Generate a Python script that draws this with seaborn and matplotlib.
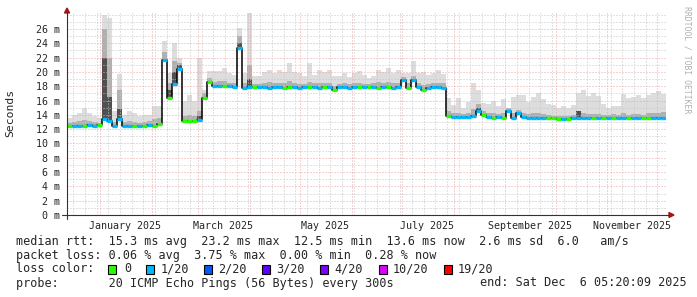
import matplotlib
matplotlib.use("Agg")
import numpy as np
import pandas as pd
import matplotlib.pyplot as plt
import matplotlib.dates as mdates
from matplotlib.patches import Rectangle, Polygon
from matplotlib.lines import Line2D
import seaborn as sns

# ---------------- data ----------------
END = pd.Timestamp("2025-12-06 05:20:09")
START = END - pd.Timedelta(days=359)
N_BINS = 120  # ~3-day consolidation steps

median_ms = [
    12.5, 12.5, 12.5, 12.5, 12.6, 12.5, 12.6, 13.4, 13.1, 12.5,
    13.4, 12.5, 12.5, 12.5, 12.5, 12.5, 12.6, 12.5, 12.7, 21.6,
    16.4, 18.3, 20.4, 13.2, 13.2, 13.2, 13.3, 16.3, 18.6, 18.0,
    18.0, 18.1, 18.0, 17.9, 23.3, 17.8, 17.9, 17.9, 17.9, 17.9,
    17.8, 17.9, 17.9, 17.8, 17.9, 17.9, 17.8, 17.9, 17.9, 17.9,
    17.8, 17.9, 17.9, 17.5, 17.9, 17.9, 17.8, 17.9, 17.9, 17.9,
    17.9, 17.9, 17.8, 17.9, 17.9, 17.8, 17.9, 18.9, 17.8, 18.9,
    17.9, 17.5, 17.8, 17.9, 17.9, 17.8, 13.8, 13.7, 13.7, 13.7,
    13.7, 13.8, 14.5, 14.0, 13.7, 13.6, 13.7, 13.6, 14.5, 13.6,
    14.3, 13.7, 13.6, 13.6, 13.6, 13.5, 13.5, 13.5, 13.4, 13.4,
    13.4, 13.5, 13.6, 13.6, 13.6, 13.5, 13.6, 13.6, 13.5, 13.6,
    13.6, 13.6, 13.5, 13.6, 13.6, 13.6, 13.6, 13.6, 13.6, 13.6,
]

smoke_top_ms = [
    13.6, 14.0, 14.3, 15.0, 14.2, 13.8, 13.6, 28.0, 27.5, 14.5,
    19.7, 14.0, 14.6, 14.2, 13.8, 14.0, 14.0, 15.2, 15.3, 24.3,
    19.8, 24.0, 22.0, 16.0, 16.8, 16.0, 22.0, 17.5, 20.1, 20.1,
    20.1, 20.5, 19.8, 19.6, 26.1, 19.8, 28.2, 19.4, 19.4, 20.0,
    20.3, 19.8, 20.2, 20.0, 21.2, 20.0, 19.8, 19.5, 21.2, 19.6,
    20.3, 20.0, 20.3, 19.5, 19.5, 19.8, 19.3, 19.8, 20.1, 19.6,
    19.1, 19.5, 20.3, 20.0, 20.5, 19.8, 20.2, 19.8, 19.8, 21.5,
    19.8, 20.0, 19.6, 19.9, 20.2, 19.7, 16.4, 15.4, 16.3, 15.0,
    15.8, 18.4, 17.5, 15.6, 15.5, 16.0, 15.3, 16.2, 15.0, 16.5,
    16.8, 16.8, 15.8, 16.5, 17.0, 16.2, 15.5, 15.4, 15.0, 15.2,
    15.0, 15.4, 17.0, 17.5, 16.6, 17.0, 16.6, 15.5, 15.0, 15.3,
    15.2, 16.9, 16.3, 16.5, 16.8, 16.4, 16.8, 17.0, 17.4, 16.9,
]

smoke_mid_ms = [
    12.9, 13.0, 13.1, 13.3, 13.1, 13.0, 12.9, 26.0, 22.0, 13.0,
    17.5, 13.0, 13.1, 13.0, 12.9, 13.0, 13.1, 13.4, 13.5, 22.8,
    18.5, 21.5, 21.2, 13.8, 14.0, 13.9, 14.6, 17.0, 19.2, 18.6,
    18.7, 18.8, 18.5, 18.4, 25.0, 18.4, 21.0, 18.3, 18.3, 18.5,
    18.6, 18.4, 18.5, 18.4, 18.7, 18.5, 18.3, 18.3, 18.6, 18.4,
    18.5, 18.4, 18.5, 18.1, 18.3, 18.4, 18.3, 18.4, 18.5, 18.3,
    18.3, 18.4, 18.6, 18.5, 18.6, 18.4, 18.5, 19.3, 18.4, 19.4,
    18.4, 18.2, 18.3, 18.4, 18.5, 18.4, 14.6, 14.2, 14.3, 14.1,
    14.3, 14.8, 15.5, 14.5, 14.2, 14.2, 14.1, 14.3, 14.9, 14.2,
    14.7, 14.3, 14.1, 14.2, 14.3, 14.1, 14.0, 13.9, 13.9, 13.9,
    13.9, 14.0, 14.6, 14.2, 14.1, 14.1, 14.1, 14.0, 14.0, 14.1,
    14.0, 14.2, 14.0, 14.1, 14.1, 14.0, 14.2, 14.2, 14.3, 14.4,
]

dark_bins = [7, 8, 10, 19, 20, 21, 22, 26, 34, 36, 82, 102]
dark_top_ms = [22.0, 16.5, 14.8, 21.8, 17.5, 20.0, 21.0, 13.8, 24.0, 19.0, 15.0, 14.5]

# index into loss_labels / loss_colors
loss_bucket = [
    0, 1, 1, 0, 1, 1, 0, 1, 1, 1,
    1, 1, 1, 0, 1, 0, 1, 0, 0, 1,
    0, 1, 1, 0, 0, 0, 1, 0, 0, 1,
    1, 0, 1, 1, 1, 1, 1, 0, 1, 1,
    1, 1, 1, 0, 0, 1, 1, 1, 0, 1,
    1, 0, 1, 0, 1, 1, 1, 1, 0, 1,
    0, 1, 0, 1, 0, 1, 1, 1, 0, 1,
    1, 0, 1, 1, 1, 1, 0, 1, 1, 1,
    1, 1, 1, 0, 1, 0, 1, 0, 1, 1,
    1, 1, 1, 1, 1, 1, 0, 0, 0, 1,
    0, 1, 1, 1, 1, 0, 1, 0, 1, 0,
    1, 1, 0, 1, 1, 0, 0, 1, 1, 1,
]

loss_labels = ["0", "1/20", "2/20", "3/20", "4/20", "10/20", "19/20"]
loss_colors = ["#26ff00", "#00b8ff", "#0059ff", "#5e00ff", "#7e00ff", "#dd00ff", "#ff0000"]

y_ticks = [0, 2, 4, 6, 8, 10, 12, 14, 16, 18, 20, 22, 24, 26]
x_label_dates = ["2025-01-16", "2025-03-16", "2025-05-16", "2025-07-16", "2025-09-16", "2025-11-16"]
x_labels = ["January 2025", "March 2025", "May 2025", "July 2025", "September 2025", "November 2025"]

legend_lines = [
    "median rtt:  15.3 ms avg  23.2 ms max  12.5 ms min  13.6 ms now  2.6 ms sd  6.0   am/s",
    "packet loss: 0.06 % avg  3.75 % max  0.00 % min  0.28 % now",
]
probe_text = "probe:       20 ICMP Echo Pings (56 Bytes) every 300s"
end_text = "end: Sat Dec  6 05:20:09 2025"

# ---------------- style ----------------
sns.set_style("white")
MONO = "DejaVu Sans Mono"
plt.rcParams["font.family"] = [MONO]

W, H = 697, 297
fig = plt.figure(figsize=(W / 100, H / 100), dpi=100)
fig.patch.set_facecolor("white")


def fx(px):
    return px / W


def fy(py):
    return 1 - py / H


AX_L, AX_R, AX_T, AX_B = 67, 666, 12, 215
PX_PER_MS = 186 / 26
ax = fig.add_axes([fx(AX_L), fy(AX_B), (AX_R - AX_L) / W, (AX_B - AX_T) / H])
ax.set_facecolor("white")
ax.set_ylim(0, (AX_B - AX_T) / PX_PER_MS)
ax.set_xlim(mdates.date2num(START), mdates.date2num(END))
for s in ax.spines.values():
    s.set_visible(False)

edges = pd.date_range(START, END, periods=N_BINS + 1)
xe = mdates.date2num(edges)
med = np.array(median_ms)
med_ext = np.r_[med, med[-1]]
top_ext = np.r_[smoke_top_ms, smoke_top_ms[-1]]
mid_ext = np.r_[smoke_mid_ms, smoke_mid_ms[-1]]

# smoke
ax.fill_between(xe, med_ext, top_ext, step="post", color="#dddddd", lw=0, zorder=1)
ax.fill_between(xe, med_ext, mid_ext, step="post", color="#b0b0b0", lw=0, zorder=1.2)
for b, v in zip(dark_bins, dark_top_ms):
    ax.fill_between([xe[b], xe[b + 1]], [med[b], med[b]], [v, v], color="#505050", lw=0, zorder=1.4)

# grid (drawn above smoke)
GRID_MIN = "#c6c6c6"
GRID_MAJ = "#eca6a6"
month_starts = pd.date_range("2025-01-01", END, freq="MS")
mondays = pd.date_range(START.normalize(), END, freq="W-MON")
ms_set = set(month_starts)
for d in mondays:
    if d not in ms_set and d >= START:
        ax.axvline(mdates.date2num(d), color=GRID_MIN, lw=0.72, ls=(0, (1, 2)), zorder=2)
for d in month_starts:
    ax.axvline(mdates.date2num(d), color=GRID_MAJ, lw=0.72, ls=(0, (1, 2)), zorder=2.1)
for v in range(1, 29):
    if v % 2 == 1 or v > 26:
        ax.axhline(v, color=GRID_MIN, lw=0.72, ls=(0, (1, 2)), zorder=2)
for v in y_ticks[1:]:
    ax.axhline(v, color=GRID_MAJ, lw=0.72, ls=(0, (1, 2)), zorder=2.1)

# median line
df = pd.DataFrame({"t": edges, "ms": med_ext})
sns.lineplot(data=df, x="t", y="ms", drawstyle="steps-post", color="black", lw=1.1,
             ax=ax, zorder=3, legend=False)
ax.hlines(med, xe[:-1], xe[1:], colors=[loss_colors[b] for b in loss_bucket], lw=2.4, zorder=4)

ax.set_xlabel("")
ax.set_ylabel("")
ax.set_yticks(y_ticks)
ax.set_yticklabels([f"{v} m" for v in y_ticks], fontsize=7.2, family=MONO)
ax.set_xticks(mdates.date2num(pd.to_datetime(x_label_dates)))
ax.set_xticklabels(x_labels, fontsize=7.2, family=MONO)
ax.tick_params(axis="y", length=0, pad=5.2)
ax.tick_params(axis="x", length=0, pad=4)
ax.set_xlim(mdates.date2num(START), mdates.date2num(END))

# axes with arrows
axis_col = "#333333"
arrow_col = "#a01818"
fig.add_artist(Line2D([fx(AX_L), fx(AX_L)], [fy(219), fy(12)], color=axis_col, lw=0.8))
fig.add_artist(Line2D([fx(62), fx(669)], [fy(AX_B), fy(AX_B)], color=axis_col, lw=0.8))
fig.add_artist(Polygon([[fx(64.5), fy(13)], [fx(69.5), fy(13)], [fx(67), fy(8)]],
                       closed=True, color=arrow_col, transform=fig.transFigure))
fig.add_artist(Polygon([[fx(669), fy(212.5)], [fx(669), fy(217.5)], [fx(674), fy(215)]],
                       closed=True, color=arrow_col, transform=fig.transFigure))

# y label and watermark
fig.text(fx(10), fy(113), "Seconds", rotation=90, fontsize=8.2, family=MONO,
         ha="center", va="center")
fig.text(fx(687), fy(60), "RRDTOOL / TOBI OETIKER", rotation=270, fontsize=5.9,
         family=MONO, color="#b0b0b0", ha="center", va="center")

# legend text
LEG_FS = 8.5
fig.text(fx(16), fy(241), legend_lines[0], fontsize=LEG_FS, family=MONO, va="center")
fig.text(fx(16), fy(255), legend_lines[1], fontsize=LEG_FS, family=MONO, va="center")
fig.text(fx(16), fy(269), "loss color:", fontsize=LEG_FS, family=MONO, va="center")
box_x = [108, 146, 204, 262, 320, 378.5, 443.5]
lab_x = [124, 160.5, 218.5, 276.5, 334.5, 393, 457.5]
for bx, lx, lab, col in zip(box_x, lab_x, loss_labels, loss_colors):
    fig.add_artist(Rectangle((fx(bx), fy(273.5)), 8 / W, 9 / H, facecolor=col,
                             edgecolor="black", lw=0.8, transform=fig.transFigure))
    fig.text(fx(lx), fy(269), lab, fontsize=LEG_FS, family=MONO, va="center")
fig.text(fx(16), fy(283), probe_text, fontsize=LEG_FS, family=MONO, va="center")
fig.text(fx(480), fy(283), end_text, fontsize=LEG_FS, family=MONO, va="center")

fig.savefig("out.png", dpi=100, facecolor="white")
